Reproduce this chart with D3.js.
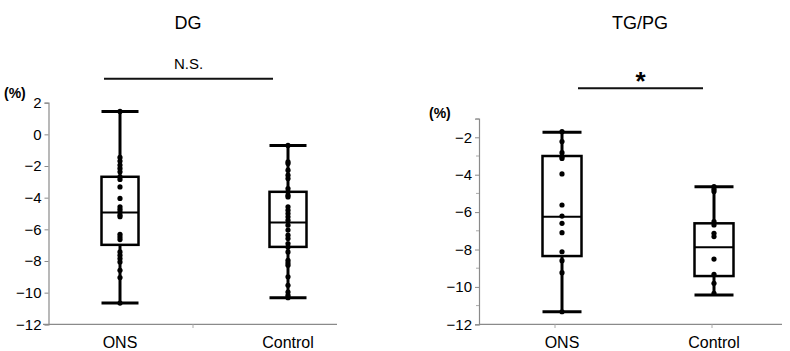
<!DOCTYPE html>
<html>
<head>
<meta charset="utf-8">
<script src="https://cdn.jsdelivr.net/npm/d3@7"></script>
<style>
  body { margin: 0; background: #fff; }
  svg { display: block; font-family: "Liberation Sans", Arial, sans-serif; }
</style>
</head>
<body>
<div id="chart"></div>
<script>
// categories
const groups = ["ONS", "Control"];

// DG panel raw values (%)
const dgONS = [1.45, -1.46, -1.69, -1.94, -2.15, -2.37, -2.68, -2.85, -3.32, -4.05, -4.58, -4.73,
  -4.9, -5.1, -5.2, -6.31, -6.48, -6.65, -7.43, -7.64, -7.85, -8.06, -8.59, -9.05, -10.66];
const dgControl = [-0.7, -1.73, -1.84, -2.26, -2.58, -2.79, -3.42, -3.63, -3.84, -3.95, -4.58, -4.79,
  -5.0, -5.21, -5.42, -5.74, -6.05, -6.37, -6.58, -6.9, -7.11, -7.43, -7.96, -8.12, -8.27, -9.0,
  -9.54, -9.96, -10.17, -10.32];
// DG box stats: [lowWhisker, q1, median, q3, highWhisker]
const dgONSBox = [-10.66, -6.98, -4.94, -2.68, 1.45];
const dgControlBox = [-10.32, -7.11, -5.57, -3.63, -0.7];

// TG/PG panel raw values (%)
const tgONS = [-1.7, -2.23, -2.82, -3.04, -3.13, -3.96, -5.62, -6.21, -6.6, -7.1, -8.12, -8.6, -9.24, -11.33];
const tgControl = [-4.64, -4.78, -4.9, -6.51, -6.69, -7.13, -7.31, -8.51, -9.33, -9.81, -10.34];
const tgONSBox = [-11.33, -8.35, -6.25, -3.0, -1.73];
const tgControlBox = [-10.43, -9.42, -7.88, -6.6, -4.64];

// ticks
const dgTicks = [2, 0, -2, -4, -6, -8, -10, -12];
const tgTicks = [-2, -4, -6, -8, -10, -12];
const tgMinor = [-1, -3, -5, -7, -9, -11];

const W = 790, H = 351;
const svg = d3.select("#chart").append("svg").attr("width", W).attr("height", H);

const fmt = v => v < 0 ? "\u2212" + Math.abs(v) : String(v);

function panel(cfg) {
  const g = svg.append("g");
  const y = d3.scaleLinear().domain(cfg.yDomain).range([324.3, cfg.yTop]);
  const x = d3.scalePoint().domain(groups).range(cfg.xCats);

  // x axis line
  g.append("line")
    .attr("x1", cfg.xAxis[0]).attr("x2", cfg.xAxis[1])
    .attr("y1", 324.3).attr("y2", 324.3)
    .attr("stroke", "#8a8a8a").attr("stroke-width", 1.2);
  // small x ticks
  g.selectAll(".xt").data(cfg.xTicks).enter().append("line")
    .attr("x1", d => d).attr("x2", d => d)
    .attr("y1", 324.3).attr("y2", 328)
    .attr("stroke", "#aaa").attr("stroke-width", 1);

  // y axis
  const yAxis = d3.axisLeft(y).tickValues(cfg.ticks).tickFormat(fmt).tickSize(4).tickPadding(3);
  const ya = g.append("g").attr("transform", `translate(${cfg.yAxisX},0)`).call(yAxis);
  ya.select(".domain").attr("stroke", "#8a8a8a").attr("stroke-width", 1.2);
  ya.selectAll(".tick line").attr("stroke", "#8a8a8a");
  ya.selectAll(".tick text").attr("fill", "#000")
    .style("font-size", "15px").style("font-family", "'Liberation Sans', Arial, sans-serif");
  if (cfg.minor) {
    g.selectAll(".mt").data(cfg.minor).enter().append("line")
      .attr("x1", cfg.yAxisX - 3).attr("x2", cfg.yAxisX)
      .attr("y1", d => y(d)).attr("y2", d => y(d))
      .attr("stroke", "#aaa");
  }

  // unit label
  g.append("text").attr("x", cfg.unitPos[0]).attr("y", cfg.unitPos[1])
    .style("font-size", "14px").style("font-weight", "bold").text("(%)");

  // category labels
  g.selectAll(".cat").data(groups).enter().append("text")
    .attr("x", d => x(d)).attr("y", 348)
    .attr("text-anchor", "middle").style("font-size", "16px")
    .text(d => d);

  // boxes
  const bw = cfg.boxW;
  cfg.boxes.forEach((b, i) => {
    const cx = x(groups[i]);
    const bg = g.append("g");
    // whiskers
    bg.append("line").attr("x1", cx).attr("x2", cx).attr("y1", y(b[3])).attr("y2", y(b[4]))
      .attr("stroke", "#000").attr("stroke-width", 3);
    bg.append("line").attr("x1", cx).attr("x2", cx).attr("y1", y(b[1])).attr("y2", y(b[0]))
      .attr("stroke", "#000").attr("stroke-width", 3);
    [b[0], b[4]].forEach(v => {
      bg.append("line").attr("x1", cx - bw / 2).attr("x2", cx + bw / 2)
        .attr("y1", y(v)).attr("y2", y(v))
        .attr("stroke", "#000").attr("stroke-width", 3);
    });
    bg.append("rect").attr("x", cx - bw / 2).attr("width", bw)
      .attr("y", y(b[3])).attr("height", y(b[1]) - y(b[3]))
      .attr("fill", "none").attr("stroke", "#000").attr("stroke-width", 2.5);
    bg.append("line").attr("x1", cx - bw / 2).attr("x2", cx + bw / 2)
      .attr("y1", y(b[2])).attr("y2", y(b[2]))
      .attr("stroke", "#000").attr("stroke-width", 2);
  });

  // dots
  cfg.points.forEach((pts, i) => {
    g.selectAll(".p" + i).data(pts).enter().append("circle")
      .attr("cx", x(groups[i])).attr("cy", d => y(d)).attr("r", 2.6)
      .attr("fill", "#000");
  });

  // title
  g.append("text").attr("x", cfg.titleX).attr("y", 29)
    .attr("text-anchor", "middle").style("font-size", "18px")
    .text(cfg.title);

  // significance bar
  g.append("line").attr("x1", cfg.sigLine[0]).attr("x2", cfg.sigLine[1])
    .attr("y1", cfg.sigLine[2]).attr("y2", cfg.sigLine[2])
    .attr("stroke", "#111").attr("stroke-width", 2);
  g.append("text").attr("x", (cfg.sigLine[0] + cfg.sigLine[1]) / 2).attr("y", cfg.sigTextY)
    .attr("text-anchor", "middle")
    .style("font-size", cfg.sigSize).style("font-weight", cfg.sigWeight)
    .text(cfg.sig);
}

panel({
  title: "DG", titleX: 188,
  yDomain: [-12, 2], yTop: 102.7, ticks: dgTicks,
  yAxisX: 48.5, xAxis: [43, 337], xCats: [120, 288], xTicks: [193],
  unitPos: [4, 98], boxW: 37,
  boxes: [dgONSBox, dgControlBox], points: [dgONS, dgControl],
  sigLine: [104, 273, 78.8], sig: "N.S.", sigTextY: 69, sigSize: "15px", sigWeight: "normal"
});

panel({
  title: "TG/PG", titleX: 640,
  yDomain: [-12, -1], yTop: 118.6, ticks: tgTicks, minor: tgMinor,
  yAxisX: 479, xAxis: [479, 782], xCats: [562, 714], xTicks: [555, 712],
  unitPos: [429, 118], boxW: 39,
  boxes: [tgONSBox, tgControlBox], points: [tgONS, tgControl],
  sigLine: [578, 703, 88.3], sig: "*", sigTextY: 90, sigSize: "26px", sigWeight: "bold"
});
</script>
</body>
</html>
